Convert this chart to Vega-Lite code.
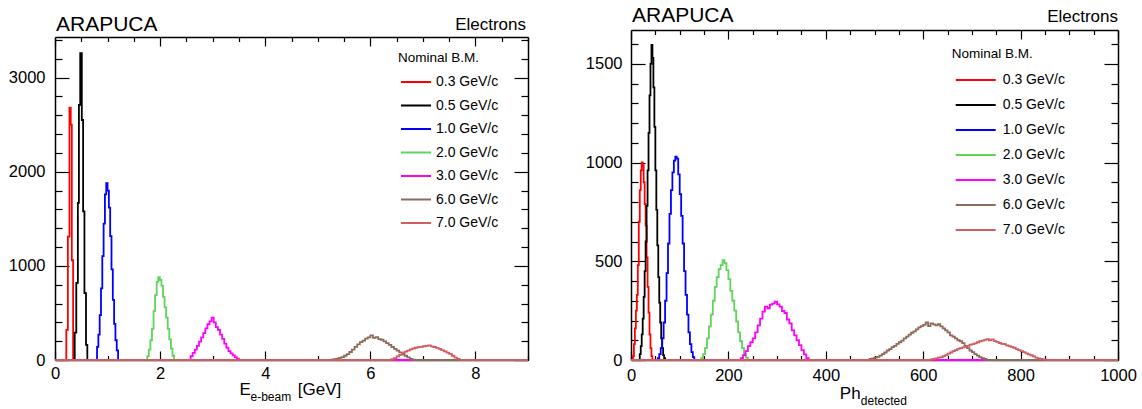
{
"$schema": "https://vega.github.io/schema/vega-lite/v6.json",
"background": "white",
"padding": {"left": 8, "top": 5, "right": 0, "bottom": 0},
"columns": 2,
"align": "each",
"bounds": "full",
"spacing": 53,
"resolve": {"scale": {"color": "independent"}, "legend": {"color": "independent"}},
"datasets": {
"L": [
{"s":"0.3","x":0,"y":0},{"s":"0.3","x":0.215,"y":320},{"s":"0.3","x":0.245,"y":1310},{"s":"0.3","x":0.275,"y":2680},{"s":"0.3","x":0.3,"y":2500},{"s":"0.3","x":0.32,"y":1060},{"s":"0.3","x":0.345,"y":0},{"s":"0.3","x":9,"y":0},
{"s":"0.5","x":0,"y":0},{"s":"0.5","x":0.375,"y":290},{"s":"0.5","x":0.405,"y":820},{"s":"0.5","x":0.435,"y":1670},{"s":"0.5","x":0.455,"y":2710},{"s":"0.5","x":0.48,"y":3260},{"s":"0.5","x":0.51,"y":2550},{"s":"0.5","x":0.535,"y":1580},{"s":"0.5","x":0.56,"y":710},{"s":"0.5","x":0.59,"y":160},{"s":"0.5","x":0.615,"y":0},{"s":"0.5","x":9,"y":0},
{"s":"1.0","x":0,"y":0},{"s":"1.0","x":0.8,"y":139},{"s":"1.0","x":0.825,"y":270},{"s":"1.0","x":0.85,"y":477},{"s":"1.0","x":0.875,"y":761},{"s":"1.0","x":0.9,"y":1104},{"s":"1.0","x":0.925,"y":1450},{"s":"1.0","x":0.95,"y":1760},{"s":"1.0","x":0.975,"y":1880},{"s":"1.0","x":1.0,"y":1800},{"s":"1.0","x":1.025,"y":1620},{"s":"1.0","x":1.05,"y":1316},{"s":"1.0","x":1.075,"y":963},{"s":"1.0","x":1.1,"y":639},{"s":"1.0","x":1.125,"y":384},{"s":"1.0","x":1.15,"y":210},{"s":"1.0","x":1.175,"y":103},{"s":"1.0","x":1.2,"y":0},{"s":"1.0","x":9,"y":0},
{"s":"2.0","x":0,"y":0},{"s":"2.0","x":1.755,"y":40},{"s":"2.0","x":1.785,"y":110},{"s":"2.0","x":1.815,"y":210},{"s":"2.0","x":1.845,"y":330},{"s":"2.0","x":1.875,"y":520},{"s":"2.0","x":1.905,"y":690},{"s":"2.0","x":1.935,"y":830},{"s":"2.0","x":1.965,"y":880},{"s":"2.0","x":1.995,"y":850},{"s":"2.0","x":2.025,"y":790},{"s":"2.0","x":2.055,"y":670},{"s":"2.0","x":2.085,"y":560},{"s":"2.0","x":2.115,"y":450},{"s":"2.0","x":2.145,"y":330},{"s":"2.0","x":2.175,"y":220},{"s":"2.0","x":2.205,"y":120},{"s":"2.0","x":2.235,"y":45},{"s":"2.0","x":2.265,"y":0},{"s":"2.0","x":9,"y":0},
{"s":"3.0","x":0,"y":0},{"s":"3.0","x":2.58,"y":40},{"s":"3.0","x":2.62,"y":75},{"s":"3.0","x":2.66,"y":110},{"s":"3.0","x":2.7,"y":150},{"s":"3.0","x":2.74,"y":195},{"s":"3.0","x":2.78,"y":240},{"s":"3.0","x":2.82,"y":285},{"s":"3.0","x":2.86,"y":335},{"s":"3.0","x":2.9,"y":380},{"s":"3.0","x":2.94,"y":410},{"s":"3.0","x":2.98,"y":450},{"s":"3.0","x":3.02,"y":400},{"s":"3.0","x":3.06,"y":350},{"s":"3.0","x":3.1,"y":320},{"s":"3.0","x":3.14,"y":270},{"s":"3.0","x":3.18,"y":225},{"s":"3.0","x":3.22,"y":175},{"s":"3.0","x":3.26,"y":130},{"s":"3.0","x":3.3,"y":95},{"s":"3.0","x":3.34,"y":70},{"s":"3.0","x":3.38,"y":50},{"s":"3.0","x":3.42,"y":30},{"s":"3.0","x":3.46,"y":15},{"s":"3.0","x":3.5,"y":0},{"s":"3.0","x":9,"y":0},
{"s":"6.0","x":0,"y":0},{"s":"6.0","x":5.25,"y":5},{"s":"6.0","x":5.3,"y":10},{"s":"6.0","x":5.35,"y":15},{"s":"6.0","x":5.4,"y":22},{"s":"6.0","x":5.45,"y":30},{"s":"6.0","x":5.5,"y":45},{"s":"6.0","x":5.55,"y":62},{"s":"6.0","x":5.6,"y":85},{"s":"6.0","x":5.65,"y":110},{"s":"6.0","x":5.7,"y":140},{"s":"6.0","x":5.75,"y":165},{"s":"6.0","x":5.8,"y":190},{"s":"6.0","x":5.85,"y":205},{"s":"6.0","x":5.9,"y":228},{"s":"6.0","x":5.95,"y":240},{"s":"6.0","x":6.0,"y":262},{"s":"6.0","x":6.05,"y":235},{"s":"6.0","x":6.1,"y":242},{"s":"6.0","x":6.15,"y":222},{"s":"6.0","x":6.2,"y":215},{"s":"6.0","x":6.25,"y":198},{"s":"6.0","x":6.3,"y":180},{"s":"6.0","x":6.35,"y":160},{"s":"6.0","x":6.4,"y":138},{"s":"6.0","x":6.45,"y":118},{"s":"6.0","x":6.5,"y":100},{"s":"6.0","x":6.55,"y":80},{"s":"6.0","x":6.6,"y":62},{"s":"6.0","x":6.65,"y":45},{"s":"6.0","x":6.7,"y":28},{"s":"6.0","x":6.75,"y":12},{"s":"6.0","x":6.8,"y":5},{"s":"6.0","x":6.85,"y":0},{"s":"6.0","x":9,"y":0},
{"s":"7.0","x":0,"y":0},{"s":"7.0","x":6.4,"y":8},{"s":"7.0","x":6.45,"y":20},{"s":"7.0","x":6.5,"y":38},{"s":"7.0","x":6.55,"y":55},{"s":"7.0","x":6.6,"y":72},{"s":"7.0","x":6.65,"y":88},{"s":"7.0","x":6.7,"y":100},{"s":"7.0","x":6.75,"y":112},{"s":"7.0","x":6.8,"y":122},{"s":"7.0","x":6.85,"y":130},{"s":"7.0","x":6.9,"y":136},{"s":"7.0","x":6.95,"y":140},{"s":"7.0","x":7.0,"y":146},{"s":"7.0","x":7.05,"y":150},{"s":"7.0","x":7.1,"y":155},{"s":"7.0","x":7.15,"y":145},{"s":"7.0","x":7.2,"y":138},{"s":"7.0","x":7.25,"y":128},{"s":"7.0","x":7.3,"y":118},{"s":"7.0","x":7.35,"y":104},{"s":"7.0","x":7.4,"y":92},{"s":"7.0","x":7.45,"y":78},{"s":"7.0","x":7.5,"y":65},{"s":"7.0","x":7.55,"y":45},{"s":"7.0","x":7.6,"y":25},{"s":"7.0","x":7.65,"y":12},{"s":"7.0","x":7.7,"y":0},{"s":"7.0","x":9,"y":0}
],
"R": [
{"s":"0.3","x":0,"y":0},{"s":"0.3","x":4,"y":20},{"s":"0.3","x":6,"y":80},{"s":"0.3","x":8,"y":160},{"s":"0.3","x":10,"y":250},{"s":"0.3","x":12,"y":330},{"s":"0.3","x":14,"y":480},{"s":"0.3","x":16,"y":700},{"s":"0.3","x":18,"y":860},{"s":"0.3","x":20,"y":960},{"s":"0.3","x":22,"y":1000},{"s":"0.3","x":24,"y":985},{"s":"0.3","x":26,"y":900},{"s":"0.3","x":28,"y":790},{"s":"0.3","x":30,"y":680},{"s":"0.3","x":32,"y":520},{"s":"0.3","x":34,"y":370},{"s":"0.3","x":36,"y":240},{"s":"0.3","x":38,"y":130},{"s":"0.3","x":40,"y":60},{"s":"0.3","x":42,"y":20},{"s":"0.3","x":44,"y":0},{"s":"0.3","x":1000,"y":0},
{"s":"0.5","x":0,"y":0},{"s":"0.5","x":18,"y":30},{"s":"0.5","x":20,"y":70},{"s":"0.5","x":22,"y":130},{"s":"0.5","x":24,"y":210},{"s":"0.5","x":26,"y":320},{"s":"0.5","x":28,"y":450},{"s":"0.5","x":30,"y":600},{"s":"0.5","x":32,"y":780},{"s":"0.5","x":34,"y":960},{"s":"0.5","x":36,"y":1150},{"s":"0.5","x":38,"y":1340},{"s":"0.5","x":40,"y":1500},{"s":"0.5","x":42,"y":1595},{"s":"0.5","x":44,"y":1530},{"s":"0.5","x":46,"y":1380},{"s":"0.5","x":48,"y":1180},{"s":"0.5","x":50,"y":960},{"s":"0.5","x":52,"y":760},{"s":"0.5","x":54,"y":580},{"s":"0.5","x":56,"y":420},{"s":"0.5","x":58,"y":290},{"s":"0.5","x":60,"y":190},{"s":"0.5","x":62,"y":110},{"s":"0.5","x":64,"y":60},{"s":"0.5","x":66,"y":25},{"s":"0.5","x":68,"y":10},{"s":"0.5","x":70,"y":0},{"s":"0.5","x":1000,"y":0},
{"s":"1.0","x":0,"y":0},{"s":"1.0","x":55,"y":10},{"s":"1.0","x":58,"y":30},{"s":"1.0","x":61,"y":60},{"s":"1.0","x":64,"y":110},{"s":"1.0","x":67,"y":190},{"s":"1.0","x":70,"y":300},{"s":"1.0","x":73,"y":440},{"s":"1.0","x":76,"y":590},{"s":"1.0","x":79,"y":740},{"s":"1.0","x":82,"y":860},{"s":"1.0","x":85,"y":950},{"s":"1.0","x":88,"y":1010},{"s":"1.0","x":91,"y":1030},{"s":"1.0","x":94,"y":1020},{"s":"1.0","x":97,"y":940},{"s":"1.0","x":100,"y":840},{"s":"1.0","x":103,"y":730},{"s":"1.0","x":106,"y":590},{"s":"1.0","x":109,"y":450},{"s":"1.0","x":112,"y":330},{"s":"1.0","x":115,"y":230},{"s":"1.0","x":118,"y":140},{"s":"1.0","x":121,"y":80},{"s":"1.0","x":124,"y":40},{"s":"1.0","x":127,"y":15},{"s":"1.0","x":130,"y":0},{"s":"1.0","x":1000,"y":0},
{"s":"2.0","x":0,"y":0},{"s":"2.0","x":144,"y":10},{"s":"2.0","x":148,"y":30},{"s":"2.0","x":152,"y":60},{"s":"2.0","x":156,"y":110},{"s":"2.0","x":160,"y":170},{"s":"2.0","x":164,"y":230},{"s":"2.0","x":168,"y":300},{"s":"2.0","x":172,"y":370},{"s":"2.0","x":176,"y":420},{"s":"2.0","x":180,"y":460},{"s":"2.0","x":184,"y":480},{"s":"2.0","x":188,"y":505},{"s":"2.0","x":192,"y":490},{"s":"2.0","x":196,"y":455},{"s":"2.0","x":200,"y":410},{"s":"2.0","x":204,"y":350},{"s":"2.0","x":208,"y":300},{"s":"2.0","x":212,"y":250},{"s":"2.0","x":216,"y":195},{"s":"2.0","x":220,"y":140},{"s":"2.0","x":224,"y":95},{"s":"2.0","x":228,"y":60},{"s":"2.0","x":232,"y":30},{"s":"2.0","x":236,"y":12},{"s":"2.0","x":240,"y":0},{"s":"2.0","x":1000,"y":0},
{"s":"3.0","x":0,"y":0},{"s":"3.0","x":225,"y":10},{"s":"3.0","x":230,"y":25},{"s":"3.0","x":235,"y":45},{"s":"3.0","x":240,"y":70},{"s":"3.0","x":245,"y":90},{"s":"3.0","x":250,"y":110},{"s":"3.0","x":255,"y":140},{"s":"3.0","x":260,"y":175},{"s":"3.0","x":265,"y":210},{"s":"3.0","x":270,"y":245},{"s":"3.0","x":275,"y":270},{"s":"3.0","x":280,"y":262},{"s":"3.0","x":285,"y":280},{"s":"3.0","x":290,"y":285},{"s":"3.0","x":295,"y":295},{"s":"3.0","x":300,"y":282},{"s":"3.0","x":305,"y":270},{"s":"3.0","x":310,"y":248},{"s":"3.0","x":315,"y":238},{"s":"3.0","x":320,"y":205},{"s":"3.0","x":325,"y":185},{"s":"3.0","x":330,"y":150},{"s":"3.0","x":335,"y":125},{"s":"3.0","x":340,"y":100},{"s":"3.0","x":345,"y":75},{"s":"3.0","x":350,"y":50},{"s":"3.0","x":355,"y":28},{"s":"3.0","x":360,"y":10},{"s":"3.0","x":365,"y":0},{"s":"3.0","x":1000,"y":0},
{"s":"6.0","x":0,"y":0},{"s":"6.0","x":490,"y":5},{"s":"6.0","x":495,"y":8},{"s":"6.0","x":500,"y":12},{"s":"6.0","x":505,"y":16},{"s":"6.0","x":510,"y":22},{"s":"6.0","x":515,"y":30},{"s":"6.0","x":520,"y":38},{"s":"6.0","x":525,"y":48},{"s":"6.0","x":530,"y":55},{"s":"6.0","x":535,"y":65},{"s":"6.0","x":540,"y":72},{"s":"6.0","x":545,"y":82},{"s":"6.0","x":550,"y":90},{"s":"6.0","x":555,"y":98},{"s":"6.0","x":560,"y":110},{"s":"6.0","x":565,"y":118},{"s":"6.0","x":570,"y":128},{"s":"6.0","x":575,"y":138},{"s":"6.0","x":580,"y":145},{"s":"6.0","x":585,"y":155},{"s":"6.0","x":590,"y":165},{"s":"6.0","x":595,"y":172},{"s":"6.0","x":600,"y":178},{"s":"6.0","x":605,"y":190},{"s":"6.0","x":610,"y":172},{"s":"6.0","x":615,"y":185},{"s":"6.0","x":620,"y":180},{"s":"6.0","x":625,"y":175},{"s":"6.0","x":630,"y":182},{"s":"6.0","x":635,"y":170},{"s":"6.0","x":640,"y":160},{"s":"6.0","x":645,"y":150},{"s":"6.0","x":650,"y":140},{"s":"6.0","x":655,"y":125},{"s":"6.0","x":660,"y":118},{"s":"6.0","x":665,"y":110},{"s":"6.0","x":670,"y":100},{"s":"6.0","x":675,"y":95},{"s":"6.0","x":680,"y":85},{"s":"6.0","x":685,"y":72},{"s":"6.0","x":690,"y":60},{"s":"6.0","x":695,"y":48},{"s":"6.0","x":700,"y":40},{"s":"6.0","x":705,"y":30},{"s":"6.0","x":710,"y":22},{"s":"6.0","x":715,"y":15},{"s":"6.0","x":720,"y":10},{"s":"6.0","x":725,"y":5},{"s":"6.0","x":730,"y":0},{"s":"6.0","x":1000,"y":0},
{"s":"7.0","x":0,"y":0},{"s":"7.0","x":615,"y":3},{"s":"7.0","x":620,"y":5},{"s":"7.0","x":625,"y":8},{"s":"7.0","x":630,"y":12},{"s":"7.0","x":635,"y":15},{"s":"7.0","x":640,"y":20},{"s":"7.0","x":645,"y":25},{"s":"7.0","x":650,"y":32},{"s":"7.0","x":655,"y":38},{"s":"7.0","x":660,"y":45},{"s":"7.0","x":665,"y":50},{"s":"7.0","x":670,"y":56},{"s":"7.0","x":675,"y":60},{"s":"7.0","x":680,"y":64},{"s":"7.0","x":685,"y":68},{"s":"7.0","x":690,"y":72},{"s":"7.0","x":695,"y":78},{"s":"7.0","x":700,"y":80},{"s":"7.0","x":705,"y":84},{"s":"7.0","x":710,"y":90},{"s":"7.0","x":715,"y":95},{"s":"7.0","x":720,"y":98},{"s":"7.0","x":725,"y":102},{"s":"7.0","x":730,"y":106},{"s":"7.0","x":735,"y":100},{"s":"7.0","x":740,"y":104},{"s":"7.0","x":745,"y":96},{"s":"7.0","x":750,"y":92},{"s":"7.0","x":755,"y":86},{"s":"7.0","x":760,"y":82},{"s":"7.0","x":765,"y":80},{"s":"7.0","x":770,"y":74},{"s":"7.0","x":775,"y":70},{"s":"7.0","x":780,"y":66},{"s":"7.0","x":785,"y":62},{"s":"7.0","x":790,"y":55},{"s":"7.0","x":795,"y":50},{"s":"7.0","x":800,"y":45},{"s":"7.0","x":805,"y":40},{"s":"7.0","x":810,"y":34},{"s":"7.0","x":815,"y":28},{"s":"7.0","x":820,"y":24},{"s":"7.0","x":825,"y":18},{"s":"7.0","x":830,"y":12},{"s":"7.0","x":835,"y":8},{"s":"7.0","x":840,"y":5},{"s":"7.0","x":845,"y":3},{"s":"7.0","x":850,"y":2},{"s":"7.0","x":855,"y":0},{"s":"7.0","x":1000,"y":0}
]
},
"concat": [
{
"width": 473, "height": 330,
"view": {"stroke": null},
"data": {"name": "L"},
"layer": [
{"mark": {"type": "line", "interpolate": "step-after", "strokeWidth": 1.8},
 "encoding": {
  "x": {"field": "x", "type": "quantitative", "scale": {"domain": [0, 9], "nice": false, "zero": false},
   "axis": {"orient": "bottom", "title": null, "format": "d", "values": [0,0.5,1,1.5,2,2.5,3,3.5,4,4.5,5,5.5,6,6.5,7,7.5,8,8.5,9], "labelExpr": "datum.value % 2 === 0 ? datum.label : ''", "tickSize": {"condition": {"test": "datum.value % 2 === 0", "value": -9}, "value": -4.5}, "labelPadding": 14.5}},
  "y": {"field": "y", "type": "quantitative", "scale": {"domain": [0, 3432], "range": [330, 7], "nice": false, "zero": true},
   "axis": {"orient": "left", "title": null, "format": "d", "values": [0,200,400,600,800,1000,1200,1400,1600,1800,2000,2200,2400,2600,2800,3000,3200,3400], "labelExpr": "datum.value % 1000 === 0 ? datum.label : ''", "tickSize": {"condition": {"test": "datum.value % 1000 === 0", "value": -14}, "value": -7}, "labelPadding": 24}},
  "color": {"field": "s", "type": "nominal",
   "scale": {"domain": ["0.3","0.5","1.0","2.0","3.0","6.0","7.0"], "range": ["#ff0000","#000000","#0000ff","#5fd35a","#ff00ff","#8e6a5a","#cf5e61"]},
   "legend": {"orient": "none", "legendX": 343, "legendY": 21, "title": "Nominal B.M.", "titleFontSize": 13.5, "titleFontWeight": "normal", "titlePadding": 1.5, "labelFontSize": 14, "symbolType": "stroke", "symbolStrokeWidth": 2, "symbolSize": 900, "symbolOffset": 2, "labelOffset": 4, "rowPadding": 0.5, "labelExpr": "datum.label + ' GeV/c'"}}
 }},
{"mark": {"type": "point", "opacity": 0},
 "encoding": {
  "x": {"field": "x", "type": "quantitative", "axis": {"orient": "top", "offset": -7, "title": null, "labels": false, "values": [0,0.5,1,1.5,2,2.5,3,3.5,4,4.5,5,5.5,6,6.5,7,7.5,8,8.5,9], "tickSize": {"condition": {"test": "datum.value % 2 === 0", "value": -9}, "value": -4.5}}},
  "y": {"field": "y", "type": "quantitative", "axis": {"orient": "right", "title": null, "labels": false, "values": [0,200,400,600,800,1000,1200,1400,1600,1800,2000,2200,2400,2600,2800,3000,3200,3400], "tickSize": {"condition": {"test": "datum.value % 1000 === 0", "value": -14}, "value": -7}}}
 }},
{"data": {"values": [{}]}, "mark": {"type": "text", "align": "left", "baseline": "alphabetic", "fontSize": 21, "font": "Liberation Sans", "color": "black", "dy": -6, "dx": 1},
 "encoding": {"x": {"datum": 0, "type": "quantitative", "axis": null}, "y": {"datum": 3432, "type": "quantitative", "axis": null}, "text": {"value": "ARAPUCA"}}},
{"data": {"values": [{}]}, "mark": {"type": "text", "align": "right", "baseline": "alphabetic", "fontSize": 17, "font": "Liberation Sans", "color": "black", "dy": -7, "dx": -2},
 "encoding": {"x": {"datum": 9, "type": "quantitative", "axis": null}, "y": {"datum": 3432, "type": "quantitative", "axis": null}, "text": {"value": "Electrons"}}},
{"data": {"values": [{}]}, "mark": {"type": "text", "align": "left", "baseline": "alphabetic", "fontSize": 17, "font": "Liberation Sans", "color": "black", "dy": 35},
 "encoding": {"x": {"datum": 3.51, "type": "quantitative", "axis": null}, "y": {"datum": 0, "type": "quantitative", "axis": null}, "text": {"value": "E"}}},
{"data": {"values": [{}]}, "mark": {"type": "text", "align": "left", "baseline": "alphabetic", "fontSize": 12, "font": "Liberation Sans", "color": "black", "dy": 41},
 "encoding": {"x": {"datum": 3.72, "type": "quantitative", "axis": null}, "y": {"datum": 0, "type": "quantitative", "axis": null}, "text": {"value": "e-beam"}}},
{"data": {"values": [{}]}, "mark": {"type": "text", "align": "left", "baseline": "alphabetic", "fontSize": 17, "font": "Liberation Sans", "color": "black", "dy": 35},
 "encoding": {"x": {"datum": 4.62, "type": "quantitative", "axis": null}, "y": {"datum": 0, "type": "quantitative", "axis": null}, "text": {"value": "[GeV]"}}}
],
"resolve": {"axis": {"x": "independent", "y": "independent"}}
},
{
"width": 487, "height": 330,
"view": {"stroke": null},
"data": {"name": "R"},
"layer": [
{"mark": {"type": "line", "interpolate": "step-after", "strokeWidth": 1.8},
 "encoding": {
  "x": {"field": "x", "type": "quantitative", "scale": {"domain": [0, 1000], "nice": false, "zero": false},
   "axis": {"orient": "bottom", "title": null, "values": [0,50,100,150,200,250,300,350,400,450,500,550,600,650,700,750,800,850,900,950,1000], "format": "d", "labelExpr": "datum.value % 200 === 0 ? datum.label : ''", "tickSize": {"condition": {"test": "datum.value % 200 === 0", "value": -9}, "value": -4.5}, "labelPadding": 16.8}},
  "y": {"field": "y", "type": "quantitative", "scale": {"domain": [0, 1671], "nice": false, "zero": true},
   "axis": {"orient": "left", "title": null, "format": "d", "values": [0,100,200,300,400,500,600,700,800,900,1000,1100,1200,1300,1400,1500,1600], "labelExpr": "datum.value % 500 === 0 ? datum.label : ''", "tickSize": {"condition": {"test": "datum.value % 500 === 0", "value": -14}, "value": -7}, "labelPadding": 23}},
  "color": {"field": "s", "type": "nominal",
   "scale": {"domain": ["0.3","0.5","1.0","2.0","3.0","6.0","7.0"], "range": ["#ff0000","#000000","#0000ff","#5fd35a","#ff00ff","#8e6a5a","#cf5e61"]},
   "legend": {"orient": "none", "legendX": 320.7, "legendY": 17.2, "title": "Nominal B.M.", "titleFontSize": 13.5, "titleFontWeight": "normal", "titlePadding": 1.8, "labelFontSize": 14, "symbolType": "M-1.212,0H1.212", "symbolStrokeWidth": 2, "symbolSize": 1089, "symbolOffset": 6.5, "labelOffset": 9.5, "rowPadding": 0, "labelExpr": "datum.label + ' GeV/c'"}}
 }},
{"mark": {"type": "point", "opacity": 0},
 "encoding": {
  "x": {"field": "x", "type": "quantitative", "axis": {"orient": "top", "title": null, "labels": false, "values": [0,50,100,150,200,250,300,350,400,450,500,550,600,650,700,750,800,850,900,950,1000], "tickSize": {"condition": {"test": "datum.value % 200 === 0", "value": -9}, "value": -4.5}}},
  "y": {"field": "y", "type": "quantitative", "axis": {"orient": "right", "title": null, "labels": false, "values": [0,100,200,300,400,500,600,700,800,900,1000,1100,1200,1300,1400,1500,1600], "tickSize": {"condition": {"test": "datum.value % 500 === 0", "value": -14}, "value": -7}}}
 }},
{"data": {"values": [{}]}, "mark": {"type": "text", "align": "left", "baseline": "alphabetic", "fontSize": 21, "font": "Liberation Sans", "color": "black", "dy": -8, "dx": 1},
 "encoding": {"x": {"datum": 0, "type": "quantitative", "axis": null}, "y": {"datum": 1671, "type": "quantitative", "axis": null}, "text": {"value": "ARAPUCA"}}},
{"data": {"values": [{}]}, "mark": {"type": "text", "align": "right", "baseline": "alphabetic", "fontSize": 17, "font": "Liberation Sans", "color": "black", "dy": -8},
 "encoding": {"x": {"datum": 1000, "type": "quantitative", "axis": null}, "y": {"datum": 1671, "type": "quantitative", "axis": null}, "text": {"value": "Electrons"}}},
{"data": {"values": [{}]}, "mark": {"type": "text", "align": "left", "baseline": "alphabetic", "fontSize": 17, "font": "Liberation Sans", "color": "black", "dy": 38.5},
 "encoding": {"x": {"datum": 428.8, "type": "quantitative", "axis": null}, "y": {"datum": 0, "type": "quantitative", "axis": null}, "text": {"value": "Ph"}}},
{"data": {"values": [{}]}, "mark": {"type": "text", "align": "left", "baseline": "alphabetic", "fontSize": 12, "font": "Liberation Sans", "color": "black", "dy": 44.5},
 "encoding": {"x": {"datum": 472, "type": "quantitative", "axis": null}, "y": {"datum": 0, "type": "quantitative", "axis": null}, "text": {"value": "detected"}}}
],
"resolve": {"axis": {"x": "independent", "y": "independent"}}
}
],
"config": {
 "font": "Liberation Sans",
 "view": {"stroke": null},
 "axis": {"domainColor": "black", "domainWidth": 1.5, "tickColor": "black", "tickWidth": 1.2, "labelColor": "black", "labelFont": "Liberation Sans", "labelFontSize": 16.5, "grid": false, "labelOverlap": false, "labelFlush": false},
 "legend": {"labelFont": "Liberation Sans", "titleFont": "Liberation Sans", "labelColor": "black", "titleColor": "black", "padding": 0},
 "title": {"color": "black"}
}
}
